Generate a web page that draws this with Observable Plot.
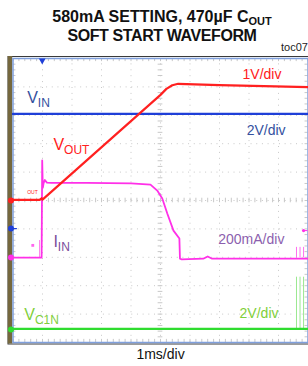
<!DOCTYPE html>
<html>
<head>
<meta charset="utf-8">
<script src="https://cdn.jsdelivr.net/npm/d3@7"></script>
<script src="https://cdn.jsdelivr.net/npm/@observablehq/plot@0.6"></script>
<style>
  html, body { margin: 0; padding: 0; background: #fff; width: 308px; height: 366px; overflow: hidden; }
  #title { position: relative; height: 52px; font-family: "Liberation Sans", Arial, sans-serif; }
  #title .t { position: absolute; left: 16px; right: 0; text-align: center; font-weight: bold; font-size: 16px; color: #111; line-height: 18px; white-space: nowrap; }
  #title .t sub { font-size: 11px; vertical-align: -3px; line-height: 0; }
  #toc { position: absolute; left: 281px; top: 41px; font-size: 11px; color: #222; white-space: nowrap; }
  #chart svg { display: block; }
</style>
</head>
<body>
<div id="title">
  <div class="t" style="top:8px">580mA SETTING, 470µF C<sub>OUT</sub></div>
  <div class="t" style="top:27px; letter-spacing:-0.4px">SOFT START WAVEFORM</div>
  <div id="toc">toc07</div>
</div>
<div id="chart"></div>
<script>
// time axis: ms (1 ms/div), vertical: screen divisions (0 = bottom, 10 = top)
const vinT = [0, 10];
const vinV = [8.05, 8.05];

const voutT = [0, 0.9, 0.97, 1.0, 5.0, 5.2, 5.4, 5.6, 7.0, 10.0];
const voutV = [5.02, 5.02, 5.08, 5.03, 8.72, 8.93, 9.06, 9.11, 9.06, 8.99];

const iinT = [0, 0.97, 0.99, 1.01, 1.04, 1.08, 1.15, 1.3, 2.5, 4.0, 4.66, 4.89, 5.06, 5.23, 5.44, 5.64, 5.66, 5.72, 6.45, 6.6, 6.75, 10];
const iinV = [2.99, 2.99, 6.41, 5.45, 5.62, 5.72, 5.63, 5.62, 5.62, 5.6, 5.56, 5.35, 5.07, 4.54, 3.94, 3.66, 2.95, 2.93, 2.95, 3.03, 2.95, 2.95];

const vc1nT = [0, 10];
const vc1nV = [0.48, 0.48];

// glitch lines at the right edge
const glitchT = [9.61, 9.73, 9.85];
const greenGlitchLo = 0.48, greenGlitchHi = 2.3;
const magGlitchLo = 2.98, magGlitchHi = 3.35;

// channel ground markers on the left edge
const markerLevels = [5.0, 4.01, 2.99, 0.46];
const markerColors = ["#ff2020", "#1f3fd8", "#ff30e8", "#2fdc2f"];

// channel name labels (left-anchored)
const nameText  = ["V_IN", "V_OUT", "I_IN", "V_C1N"];
const nameX     = [0.48, 1.37, 1.37, 0.38];
const nameY     = [8.62, 6.95, 3.55, 0.98];
const nameColor = ["#34509e", "#ff2020", "#7b4d9c", "#7fcf3a"];

// scale labels (right-anchored)
const scaleText  = ["2V/div", "1V/div", "200mA/div", "2V/div"];
const scaleX     = [9.24, 9.1, 9.2, 9.0];
const scaleY     = [7.46, 9.45, 3.63, 1.03];
const scaleColor = ["#34509e", "#ff2020", "#8c5fae", "#7fcf3a"];

const majors = [0,1,2,3,4,5,6,7,8,9,10];
const minors = d3.range(0, 10.001, 0.2);

const series = (t, v) => t.map((x, i) => ({x, y: v[i]}));
const names = nameText.map((text, i) => ({text, x: nameX[i], y: nameY[i], color: nameColor[i]}));
const scales = scaleText.map((text, i) => ({text, x: scaleX[i], y: scaleY[i], color: scaleColor[i]}));

const grid = "#c8c8c8";
const plot = Plot.plot({
  width: 308,
  height: 314,
  marginLeft: 12.5,
  marginRight: 0.5,
  marginTop: 6,
  marginBottom: 24,
  x: {domain: [0, 10], axis: null},
  y: {domain: [0, 10], axis: null},
  style: {fontFamily: "'Liberation Sans', Arial, sans-serif", background: "#fff", overflow: "visible"},
  marks: [
    // outer bezel
    Plot.frame({stroke: "#3a3a3a", strokeWidth: 1, insetLeft: -5, insetTop: -2, insetBottom: -1.5, insetRight: -3}),
    Plot.ruleX([0], {stroke: "#75683e", strokeWidth: 4.5, dx: -3, insetTop: -2, insetBottom: -1.5}),
    // dotted grid
    Plot.ruleX(majors.slice(1, 10), {stroke: grid, strokeWidth: 1, strokeDasharray: "1,4.9", strokeDashoffset: 0.5}),
    Plot.ruleY(majors.slice(1, 10), {stroke: grid, strokeWidth: 1, strokeDasharray: "1,4.68", strokeDashoffset: 0.5}),
    // centre crosshair ticks
    Plot.ruleX(minors, {x: d => d, y1: 4.92, y2: 5.08, stroke: grid}),
    Plot.ruleY(minors, {y: d => d, x1: 4.92, x2: 5.08, stroke: grid}),
    // edge ticks
    Plot.ruleX(minors, {x: d => d, y1: 0, y2: 0.11, stroke: grid}),
    Plot.ruleX(minors, {x: d => d, y1: 9.89, y2: 10, stroke: grid}),
    Plot.ruleY(minors, {y: d => d, x1: 0, x2: 0.1, stroke: grid}),
    Plot.ruleY(minors, {y: d => d, x1: 9.9, x2: 10, stroke: grid}),
    // inner screen frame
    Plot.frame({stroke: "#7f9fdc", strokeWidth: 1.5}),
    // glitches at the right
    Plot.ruleX(glitchT, {y1: greenGlitchLo, y2: greenGlitchHi, stroke: "#9be890", strokeWidth: 1}),
    Plot.ruleX(glitchT, {y1: magGlitchLo, y2: magGlitchHi, stroke: "#ff70ee", strokeWidth: 1}),
    // traces
    Plot.line(series(vc1nT, vc1nV), {x: "x", y: "y", stroke: "#2fdc2f", strokeWidth: 2.4}),
    Plot.ruleX([0.9], {y1: 2.99, y2: 3.59, stroke: "#ff80ee", strokeWidth: 1}),
    Plot.dot([{x: 0.67, y: 3.42}], {x: "x", y: "y", symbol: "square", r: 1.6, fill: "#ff66ee"}),
    Plot.line(series(iinT, iinV), {x: "x", y: "y", stroke: "#ff30e8", strokeWidth: 1.8}),
    Plot.line(series(vinT, vinV), {x: "x", y: "y", stroke: "#1f3fd8", strokeWidth: 2.4}),
    Plot.line(series(voutT, voutV), {x: "x", y: "y", stroke: "#ff2020", strokeWidth: 2.2}),
    Plot.text([{x: 0.66, y: 5.3}], {x: "x", y: "y", text: () => "OUT", fill: "#ff2020", fontSize: 5}),
    // channel markers
    Plot.ruleY([4.01], {x1: 0, x2: 0.15, stroke: "#1f3fd8", strokeWidth: 1.2}),
    Plot.dot(markerLevels, {x: 0, y: d => d, fill: (d, i) => markerColors[i], r: 3, dx: -2}),
    Plot.dot([3.94], {x: 9.85, y: d => d, fill: "#ff30e8", r: 1.6}),
    Plot.ruleY([3.94], {x1: 9.85, x2: 10, stroke: "#ff30e8", strokeWidth: 1}),
    Plot.dot([0.99], {x: d => d, y: 10, symbol: "triangle", rotate: 180, r: 2.5, fill: "#1f3fd8", dy: 2}),
    // labels
    Plot.text(names, {x: "x", y: "y", text: "text", fill: d => d.color, textAnchor: "start", fontSize: 16}),
    Plot.text(scales, {x: "x", y: "y", text: "text", fill: d => d.color, textAnchor: "end", fontSize: 14}),
    Plot.text(["1ms/div"], {x: 5, frameAnchor: "bottom", text: d => d, dy: 16, fontSize: 14, fill: "#111"})
  ]
});

// subscripts for the channel labels
d3.select(plot).selectAll("text").each(function () {
  const s = this.textContent;
  const i = s.indexOf("_");
  if (i > 0) {
    const main = s.slice(0, i), sub = s.slice(i + 1);
    this.textContent = "";
    const sel = d3.select(this);
    sel.append("tspan").text(main);
    sel.append("tspan").attr("dy", "0.35em").attr("font-size", "0.75em").text(sub);
  }
});

document.getElementById("chart").appendChild(plot);
</script>
</body>
</html>
